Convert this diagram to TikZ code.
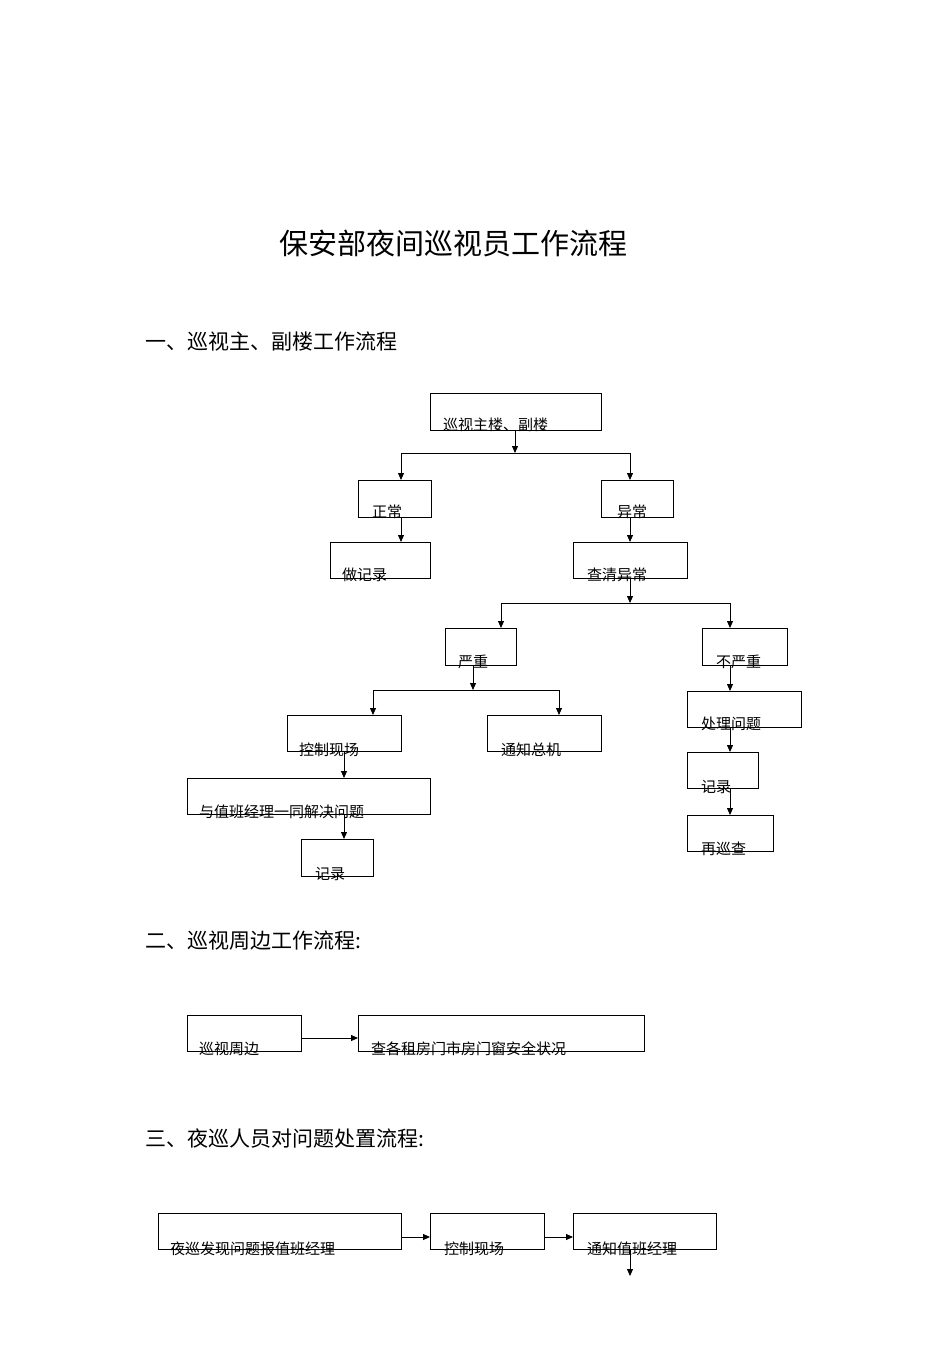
\documentclass[tikz,border=0pt]{standalone}
\usepackage{fontspec}
\setmainfont{Noto Sans CJK SC}
\usetikzlibrary{arrows.meta}
\begin{document}
\begin{tikzpicture}[x=1pt,y=-1pt,
  bx/.style={draw,line width=0.8pt},
  lb/.style={anchor=base west,inner sep=0,font=\fontsize{15}{15}\selectfont},
  ar/.style={-{Triangle[length=7pt,width=6pt]},line width=0.8pt},
  ln/.style={line width=0.8pt},
  hd/.style={anchor=base west,inner sep=0,font=\fontsize{21}{21}\selectfont}]
\useasboundingbox (0,0) rectangle (950,1345);
\node[anchor=base,inner sep=0,font=\fontsize{29}{29}\selectfont] (t) at (453,254) {保安部夜间巡视员工作流程};
\node[hd] (h1) at (145,349) {一、巡视主、副楼工作流程};
\node[hd] (h2) at (145,948) {二、巡视周边工作流程:};
\node[hd] (h3) at (145,1146) {三、夜巡人员对问题处置流程:};
% boxes
\newcommand\bxn[7]{\draw[bx] (#2,#3) rectangle (#4,#5); \node[lb] (#1) at (#6,#3+#7) {}; }
\def\B#1#2#3#4#5#6#7{\draw[bx] (#2,#3) rectangle (#4,#5); \node[lb] (#1) at (#6,#7) {};}
\draw[bx] (430,393) rectangle (601,430); \node[lb] (a) at (443,430) {巡视主楼、副楼};
\draw[bx] (358,480) rectangle (431,517); \node[lb] (zc) at (372,517) {正常};
\draw[bx] (601,480) rectangle (673,517); \node[lb] (yc) at (617,517) {异常};
\draw[bx] (330,542) rectangle (430,578); \node[lb] (zjl) at (342,580) {做记录};
\draw[bx] (573,542) rectangle (687,578); \node[lb] (qq) at (587,580) {查清异常};
\draw[bx] (445,628) rectangle (516,665); \node[lb] (yz) at (458,667) {严重};
\draw[bx] (702,628) rectangle (787,665); \node[lb] (byz) at (716,667) {不严重};
\draw[bx] (287,715) rectangle (401,751); \node[lb] (kz) at (299,755) {控制现场};
\draw[bx] (487,715) rectangle (601,751); \node[lb] (tz) at (501,755) {通知总机};
\draw[bx] (687,691) rectangle (801,727); \node[lb] (cl) at (701,729) {处理问题};
\draw[bx] (687,752) rectangle (758,788); \node[lb] (jl2) at (701,792) {记录};
\draw[bx] (687,815) rectangle (773,851); \node[lb] (zx) at (701,854) {再巡查};
\draw[bx] (187,778) rectangle (430,814); \node[lb] (yj) at (199,817) {与值班经理一同解决问题};
\draw[bx] (301,839) rectangle (373,876); \node[lb] (jl1) at (315,879) {记录};
\draw[bx] (187,1015) rectangle (301,1051); \node[lb] (xs) at (199,1054) {巡视周边};
\draw[bx] (358,1015) rectangle (644,1051); \node[lb] (cg) at (371,1054) {查各租房门市房门窗安全状况};
\draw[bx] (158,1213) rectangle (401,1249); \node[lb] (yx) at (170,1254) {夜巡发现问题报值班经理};
\draw[bx] (430,1213) rectangle (544,1249); \node[lb] (kz2) at (444,1254) {控制现场};
\draw[bx] (573,1213) rectangle (716,1249); \node[lb] (tz2) at (587,1254) {通知值班经理};
% arrows
\draw[ar] (515,430) -- (515,453);
\draw[ln] (401,453) -- (630,453);
\draw[ar] (401,453) -- (401,480);
\draw[ar] (630,453) -- (630,480);
\draw[ar] (401,517) -- (401,542);
\draw[ar] (630,517) -- (630,542);
\draw[ar] (630,578) -- (630,603);
\draw[ln] (501,603) -- (730,603);
\draw[ar] (501,603) -- (501,628);
\draw[ar] (730,603) -- (730,628);
\draw[ar] (473,665) -- (473,690);
\draw[ln] (373,690) -- (559,690);
\draw[ar] (373,690) -- (373,715);
\draw[ar] (559,690) -- (559,715);
\draw[ar] (730,665) -- (730,691);
\draw[ar] (730,727) -- (730,752);
\draw[ar] (730,788) -- (730,815);
\draw[ar] (344,751) -- (344,778);
\draw[ar] (344,814) -- (344,839);
\draw[ar] (301,1038) -- (358,1038);
\draw[ar] (401,1237) -- (430,1237);
\draw[ar] (544,1237) -- (573,1237);
\draw[ar] (630,1249) -- (630,1276);
\end{tikzpicture}
\end{document}
